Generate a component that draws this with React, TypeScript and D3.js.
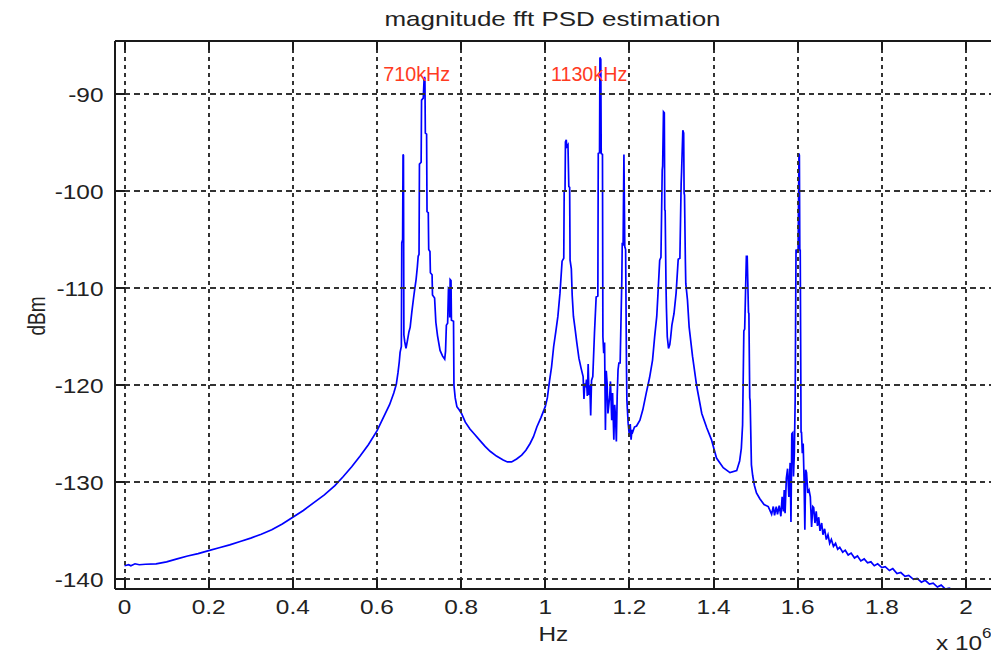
import React from 'react';
import * as d3 from 'd3';

// Frequency in units of 1e6 Hz, PSD in dBm
const freqMHz = [
  0.000, 0.010, 0.015, 0.025, 0.035, 0.050, 0.075, 0.100, 0.125, 0.150, 0.175, 0.200,
  0.225, 0.250, 0.275, 0.300, 0.325, 0.350, 0.375, 0.400, 0.425, 0.450, 0.475, 0.500,
  0.520, 0.540, 0.560, 0.580, 0.600, 0.610, 0.620, 0.630, 0.640, 0.646, 0.650, 0.653,
  0.655, 0.658, 0.659, 0.661, 0.662, 0.663, 0.664, 0.666, 0.669, 0.672, 0.676, 0.679,
  0.683, 0.687, 0.690, 0.693, 0.696, 0.698, 0.700, 0.701, 0.705, 0.706, 0.710, 0.712,
  0.713, 0.714, 0.715, 0.718, 0.719, 0.722, 0.723, 0.726, 0.727, 0.731, 0.732, 0.737,
  0.740, 0.744, 0.750, 0.756, 0.761, 0.763, 0.765, 0.768, 0.770, 0.772, 0.773, 0.774,
  0.776, 0.777, 0.782, 0.783, 0.786, 0.790, 0.795, 0.801, 0.810, 0.821, 0.833, 0.845,
  0.857, 0.869, 0.884, 0.900, 0.910, 0.920, 0.932, 0.944, 0.954, 0.964, 0.972, 0.980,
  0.990, 1.000, 1.005, 1.010, 1.015, 1.020, 1.025, 1.030, 1.035, 1.040, 1.044, 1.045,
  1.047, 1.048, 1.050, 1.051, 1.054, 1.056, 1.058, 1.059, 1.062, 1.064, 1.067, 1.071,
  1.075, 1.080, 1.085, 1.090, 1.092, 1.094, 1.096, 1.098, 1.100, 1.102, 1.104, 1.106,
  1.108, 1.110, 1.113, 1.117, 1.121, 1.125, 1.126, 1.129, 1.130, 1.132, 1.133, 1.136,
  1.137, 1.139, 1.141, 1.143, 1.145, 1.147, 1.149, 1.153, 1.155, 1.158, 1.160, 1.163,
  1.165, 1.167, 1.169, 1.171, 1.173, 1.175, 1.178, 1.182, 1.183, 1.185, 1.187, 1.189,
  1.191, 1.193, 1.194, 1.197, 1.200, 1.202, 1.204, 1.206, 1.208, 1.212, 1.217, 1.225,
  1.232, 1.240, 1.248, 1.255, 1.260, 1.265, 1.268, 1.272, 1.275, 1.278, 1.279, 1.281,
  1.283, 1.284, 1.285, 1.287, 1.288, 1.290, 1.293, 1.296, 1.298, 1.301, 1.306, 1.311,
  1.316, 1.320, 1.323, 1.324, 1.327, 1.329, 1.330, 1.331, 1.333, 1.334, 1.338, 1.342,
  1.350, 1.360, 1.372, 1.384, 1.395, 1.407, 1.423, 1.439, 1.455, 1.462, 1.466, 1.469,
  1.472, 1.474, 1.478, 1.480, 1.483, 1.484, 1.486, 1.487, 1.490, 1.493, 1.497, 1.502,
  1.510, 1.520, 1.530, 1.538, 1.542, 1.545, 1.549, 1.552, 1.556, 1.560, 1.563, 1.566,
  1.568, 1.570, 1.573, 1.576, 1.579, 1.582, 1.584, 1.586, 1.588, 1.590, 1.592, 1.594,
  1.596, 1.598, 1.600, 1.601, 1.603, 1.604, 1.605, 1.606, 1.608, 1.609, 1.611, 1.613,
  1.615, 1.617, 1.619, 1.621, 1.624, 1.627, 1.630, 1.633, 1.636, 1.638, 1.641, 1.644,
  1.647, 1.650, 1.653, 1.657, 1.660, 1.664, 1.668, 1.672, 1.676, 1.680, 1.685, 1.690,
  1.695, 1.700, 1.707, 1.713, 1.720, 1.727, 1.735, 1.742, 1.750, 1.758, 1.766, 1.774,
  1.782, 1.790, 1.800, 1.808, 1.818, 1.826, 1.836, 1.845, 1.855, 1.864, 1.875, 1.884,
  1.894, 1.903, 1.913, 1.922, 1.932, 1.941, 1.951, 1.960, 1.970, 1.980, 2.000
];

const psdDbm = [
  -138.6, -138.5, -138.6, -138.4, -138.5, -138.45, -138.4, -138.2, -137.9, -137.6, -137.35, -137.05,
  -136.75, -136.45, -136.1, -135.75, -135.35, -134.9, -134.3, -133.6, -132.9, -132.1, -131.3, -130.35,
  -129.4, -128.4, -127.3, -126.1, -124.7, -123.8, -122.9, -122.0, -120.8, -119.9, -118.7, -117.6,
  -116.6, -116.0, -105.3, -105.0, -96.2, -96.3, -114.8, -115.5, -116.2, -115.5, -114.5, -114.0,
  -112.4, -111.0, -110.0, -109.1, -107.8, -106.7, -106.5, -97.2, -97.0, -90.6, -90.4, -88.5,
  -88.2, -88.4, -94.0, -94.1, -102.1, -102.2, -106.0, -106.2, -108.4, -108.6, -110.7, -111.0,
  -113.5, -114.9, -116.4, -117.0, -117.3, -116.5, -113.8, -113.6, -110.0, -110.1, -113.0, -109.1,
  -109.2, -113.3, -113.4, -120.0, -121.3, -122.2, -122.5, -122.9, -123.8, -124.5, -125.1, -125.7,
  -126.3, -126.8, -127.3, -127.7, -127.9, -127.9, -127.6, -127.2, -126.7, -126.0, -125.3, -124.3,
  -123.3, -122.2, -121.3, -119.6, -118.1, -116.0, -114.5, -112.9, -110.5, -107.2, -106.9, -100.0,
  -99.9, -94.9, -94.7, -95.4, -95.2, -99.5, -99.6, -107.1, -108.0, -110.7, -112.9, -114.2,
  -115.6, -117.2, -118.2, -119.1, -121.4, -119.8, -120.2, -119.4, -121.1, -117.8, -121.0, -120.0,
  -123.1, -119.5, -119.1, -114.6, -110.9, -110.8, -96.1, -96.0, -86.2, -86.4, -96.1, -96.2,
  -115.0, -116.7, -115.6, -124.6, -118.5, -119.8, -122.9, -121.2, -119.6, -123.6, -120.8, -125.6,
  -122.0, -123.2, -125.8, -121.0, -118.4, -117.7, -117.7, -109.1, -105.3, -105.6, -96.2, -105.7,
  -106.0, -117.7, -121.5, -123.9, -125.2, -124.0, -125.6, -124.6, -124.8, -124.3, -124.2, -123.6,
  -122.5, -120.8, -119.2, -117.4, -115.0, -112.9, -110.5, -107.1, -106.8, -97.8, -97.4, -91.8,
  -91.9, -101.9, -102.0, -109.8, -112.0, -115.0, -116.2, -115.8, -115.1, -113.8, -112.6, -110.5,
  -107.0, -106.9, -99.2, -98.0, -93.7, -94.0, -100.2, -100.4, -107.1, -109.5, -111.2, -114.0,
  -117.0, -120.1, -122.9, -124.4, -125.6, -127.5, -128.5, -129.0, -128.8, -127.8, -126.5, -124.1,
  -114.4, -114.2, -106.7, -106.7, -112.5, -112.6, -121.3, -121.6, -128.2, -129.3, -130.3, -131.1,
  -131.7, -132.3, -132.5, -133.3, -132.5, -133.4, -132.5, -133.3, -132.4, -133.5, -131.5, -133.0,
  -130.8, -133.2, -129.6, -128.6, -131.5, -128.0, -134.1, -125.0, -124.9, -129.4, -127.0, -121.5,
  -106.0, -106.2, -106.0, -106.1, -96.1, -96.3, -106.1, -106.0, -124.9, -124.8, -127.0, -126.0,
  -129.5, -134.9, -128.7, -129.0, -131.1, -130.8, -131.5, -134.6, -132.5, -132.6, -134.2, -133.0,
  -134.5, -133.6, -135.0, -134.2, -135.4, -134.8, -135.9, -135.4, -136.3, -135.9, -136.6, -136.3,
  -136.9, -136.7, -137.2, -137.0, -137.5, -137.3, -137.8, -137.6, -138.1, -137.9, -138.3, -138.2,
  -138.6, -138.4, -138.8, -138.7, -139.1, -138.9, -139.4, -139.3, -139.7, -139.6, -140.0, -139.9,
  -140.3, -140.1, -140.5, -140.4, -140.8, -140.6, -141.0, -140.9, -141.1, -141.3
];

const xTicks = [0, 0.2, 0.4, 0.6, 0.8, 1, 1.2, 1.4, 1.6, 1.8, 2];
const xTickLabels = ['0', '0.2', '0.4', '0.6', '0.8', '1', '1.2', '1.4', '1.6', '1.8', '2'];
const yTicks = [-140, -130, -120, -110, -100, -90];
const yTickLabels = ['-140', '-130', '-120', '-110', '-100', '-90'];

const annotLabels = ['710kHz', '1130kHz'];
const annotFreq = [0.615, 1.0135];
const annotDb = [-88.6, -88.6];

const titleText = 'magnitude fft PSD estimation';
const xLabelText = 'Hz';
const yLabelText = 'dBm';

export default function App() {
  const W = 991;
  const H = 652;
  const left = 115;
  const right = 1008;
  const top = 41.3;
  const bottom = 589.3;

  const x = d3.scaleLinear().domain([0, 2]).range([124.5, 966]);
  const y = d3.scaleLinear().domain([-140, -90]).range([579.3, 94.3]);

  const data = freqMHz.map((f, i) => [f, psdDbm[i]] as [number, number]);
  const line = d3
    .line<[number, number]>()
    .x((d) => x(d[0]))
    .y((d) => y(d[1]));

  const font = '"Liberation Sans", Arial, sans-serif';
  const sx = 1.22;
  const gridColor = '#333';

  return (
    <svg
      width={W}
      height={H}
      style={{ position: 'absolute', left: 0, top: 0, background: '#fff' }}
      fontFamily={font}
    >
      <defs>
        <clipPath id="plotClip">
          <rect x={left} y={top} width={right - left} height={bottom - top} />
        </clipPath>
      </defs>
      <rect x={0} y={0} width={W} height={H} fill="#fff" />

      {/* data line */}
      <path
        d={line(data) || ''}
        fill="none"
        stroke="#0000ff"
        strokeWidth={1.7}
        strokeLinejoin="miter"
        clipPath="url(#plotClip)"
      />

      {/* grid */}
      <g clipPath="url(#plotClip)" shapeRendering="crispEdges">
        {xTicks.map((t) => (
          <line
            key={'gx' + t}
            x1={x(t)}
            x2={x(t)}
            y1={top}
            y2={bottom}
            stroke={gridColor}
            strokeWidth={2}
            strokeDasharray="4 4"
          />
        ))}
        {yTicks.map((t) => (
          <line
            key={'gy' + t}
            x1={left}
            x2={right}
            y1={y(t)}
            y2={y(t)}
            stroke={gridColor}
            strokeWidth={2}
            strokeDasharray="5.5 4"
          />
        ))}
      </g>

      {/* axes box */}
      <g shapeRendering="crispEdges">
        <line x1={left} x2={left} y1={top} y2={bottom} stroke="#1a1a1a" strokeWidth={2} />
        <line x1={left} x2={right} y1={top} y2={top} stroke="#1a1a1a" strokeWidth={2} />
        <line x1={left} x2={right} y1={bottom} y2={bottom} stroke="#1a1a1a" strokeWidth={2} />

        {xTicks.map((t) => (
          <g key={'tx' + t}>
            <line x1={x(t)} x2={x(t)} y1={bottom} y2={bottom - 10} stroke="#1a1a1a" strokeWidth={2} />
            <line x1={x(t)} x2={x(t)} y1={top} y2={top + 9} stroke="#1a1a1a" strokeWidth={2} />
          </g>
        ))}
        {yTicks.map((t) => (
          <line key={'ty' + t} x1={left} x2={left + 10} y1={y(t)} y2={y(t)} stroke="#1a1a1a" strokeWidth={2} />
        ))}
      </g>

      {/* tick labels */}
      {xTicks.map((t, i) => (
        <text
          key={'lx' + t}
          transform={`translate(${x(t)},${614}) scale(${sx},1)`}
          textAnchor="middle"
          fontSize={20}
          fill="#222"
        >
          {xTickLabels[i]}
        </text>
      ))}
      {yTicks.map((t, i) => (
        <text
          key={'ly' + t}
          transform={`translate(103.5,${y(t) + 7.2}) scale(${sx},1)`}
          textAnchor="end"
          fontSize={20}
          fill="#222"
        >
          {yTickLabels[i]}
        </text>
      ))}

      {/* title and axis labels */}
      <text
        transform={`translate(552.5,26) scale(1.3,1)`}
        textAnchor="middle"
        fontSize={20}
        fill="#222"
      >
        {titleText}
      </text>
      <text
        transform={`translate(553.3,640.5) scale(${sx},1)`}
        textAnchor="middle"
        fontSize={20}
        fill="#222"
      >
        {xLabelText}
      </text>
      <text
        transform={`translate(44.5,316) rotate(-90) scale(1,${sx})`}
        textAnchor="middle"
        fontSize={19}
        fill="#222"
      >
        {yLabelText}
      </text>
      <text transform={`translate(936,650) scale(${sx},1)`} fontSize={20} fill="#222">
        x 10
        <tspan fontSize={14} dy={-12}>6</tspan>
      </text>

      {/* annotations */}
      {annotLabels.map((lab, i) => (
        <text
          key={lab}
          transform={`translate(${x(annotFreq[i])},${y(annotDb[i])}) scale(0.94,1)`}
          fontSize={21}
          fill="#ff3b1f"
        >
          {lab}
        </text>
      ))}
    </svg>
  );
}
